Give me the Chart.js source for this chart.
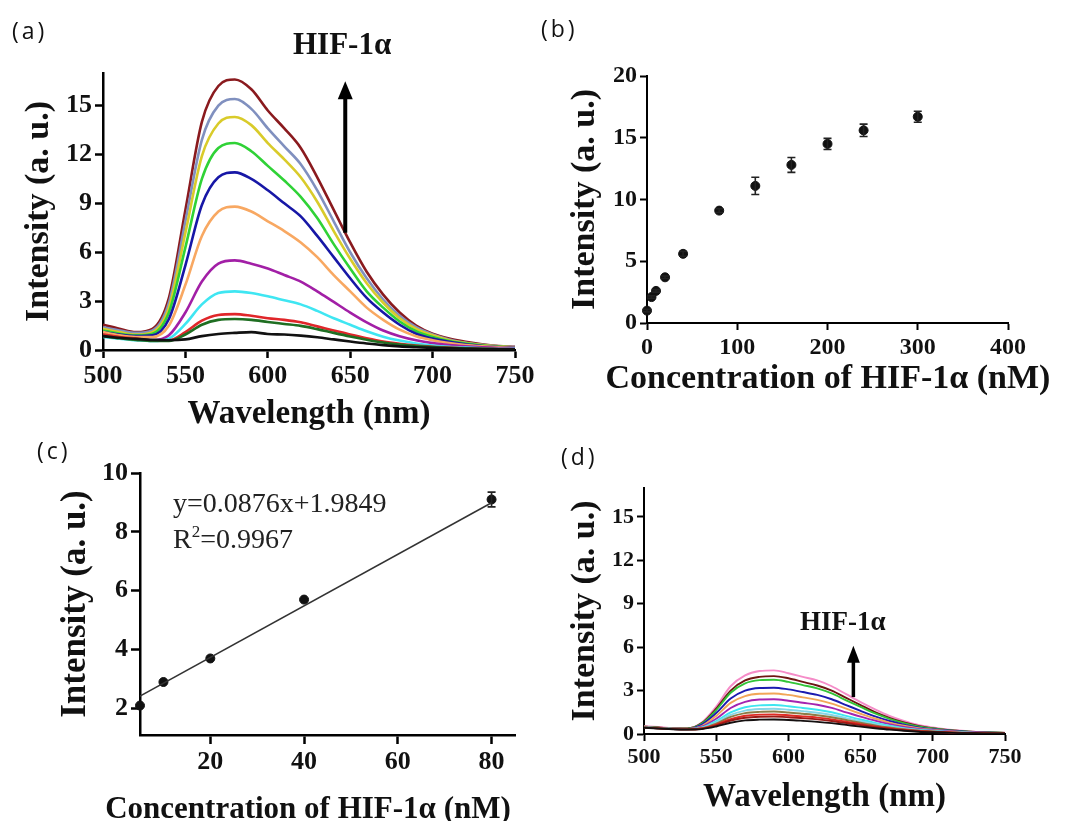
<!DOCTYPE html>
<html>
<head>
<meta charset="utf-8">
<script src="https://cdn.jsdelivr.net/npm/chart.js@4.4.1/dist/chart.umd.min.js"></script>
<style>
  body { margin: 0; background: #fff; width: 1069px; height: 821px; position: relative; overflow: hidden; }
  canvas { position: absolute; }
  .panel { position: absolute; font-family: 'Open Sans', sans-serif; font-size: 23px; letter-spacing: 3px; line-height: 1; color: #111; white-space: nowrap; }
  .hif { position: absolute; font-family: 'Liberation Serif', 'Times New Roman', serif; font-weight: bold; line-height: 1; color: #111; white-space: nowrap; }
  .xt { position: absolute; font-family: 'Liberation Serif', 'Times New Roman', serif; font-weight: bold; line-height: 1; color: #111; white-space: nowrap; text-align: center; }
  .eq { position: absolute; font-family: 'Liberation Serif', 'Times New Roman', serif; font-size: 28px; line-height: 1; color: #222; white-space: nowrap; }
  .eq span { font-size: 17px; vertical-align: 11px; line-height: 0; }
</style>
</head>
<body>
<canvas id="chartA" width="545" height="440" style="left:0;top:0"></canvas>
<canvas id="chartB" width="539" height="400" style="left:530px;top:0"></canvas>
<canvas id="chartC" width="545" height="391" style="left:0;top:430px"></canvas>
<canvas id="chartD" width="539" height="391" style="left:530px;top:430px"></canvas>

<div class="panel" style="left:12px;top:19px">(a)</div>
<div class="panel" style="left:541px;top:17px">(b)</div>
<div class="panel" style="left:37px;top:439px">(c)</div>
<div class="panel" style="left:561px;top:445px">(d)</div>
<div class="hif" style="left:293px;top:28px;font-size:31px">HIF-1α</div>
<div class="hif" style="left:800px;top:608px;font-size:27px">HIF-1α</div>
<div class="eq" style="left:173px;top:489px">y=0.0876x+1.9849</div>
<div class="eq" style="left:173px;top:525px">R<span>2</span>=0.9967</div>
<div class="xt" style="left:578px;width:500px;top:360px;font-size:34px">Concentration of HIF-1α (nM)</div>
<div class="xt" style="left:58px;width:500px;top:792px;font-size:31px">Concentration of HIF-1α (nM)</div>

<script>
const serif = "'Liberation Serif', 'Times New Roman', serif";

// shared wavelength grid (nm)
const wavelengths = [500, 510, 520, 530, 540, 550, 560, 570, 580, 590, 600, 610, 620, 630, 640, 650, 660, 670, 680, 690, 700, 710, 720, 730, 740, 750];

// (a) spectra, highest to lowest
const aDarkRed = [1.55, 1.3, 1.1, 1.3, 3.2, 8.6, 14.0, 16.2, 16.6, 16.0, 14.7, 13.6, 12.4, 10.6, 8.6, 6.6, 4.8, 3.4, 2.3, 1.5, 1.0, 0.7, 0.5, 0.35, 0.25, 0.2];
const aSlate = [1.4, 1.2, 1.05, 1.2, 2.9, 7.9, 12.9, 15.0, 15.4, 14.8, 13.6, 12.5, 11.4, 9.8, 7.9, 6.0, 4.4, 3.1, 2.1, 1.4, 0.95, 0.65, 0.45, 0.32, 0.23, 0.18];
const aYellow = [1.3, 1.1, 0.95, 1.1, 2.6, 7.2, 11.9, 13.9, 14.3, 13.8, 12.7, 11.7, 10.6, 9.1, 7.3, 5.6, 4.1, 2.9, 1.95, 1.3, 0.9, 0.6, 0.42, 0.3, 0.22, 0.17];
const aGreen = [1.2, 1.0, 0.9, 1.0, 2.3, 6.3, 10.5, 12.4, 12.7, 12.2, 11.3, 10.4, 9.4, 8.1, 6.5, 5.0, 3.6, 2.6, 1.75, 1.15, 0.8, 0.55, 0.4, 0.28, 0.2, 0.16];
const aBlue = [1.1, 0.95, 0.85, 0.9, 1.9, 5.2, 8.9, 10.6, 10.9, 10.5, 9.8, 9.0, 8.2, 7.0, 5.7, 4.4, 3.2, 2.3, 1.55, 1.0, 0.7, 0.5, 0.35, 0.25, 0.18, 0.15];
const aOrange = [1.1, 0.9, 0.8, 0.8, 1.5, 4.0, 7.0, 8.5, 8.8, 8.5, 7.9, 7.3, 6.6, 5.7, 4.6, 3.6, 2.6, 1.85, 1.25, 0.85, 0.6, 0.42, 0.3, 0.22, 0.16, 0.13];
const aPurple = [0.9, 0.75, 0.65, 0.6, 0.9, 2.3, 4.2, 5.3, 5.5, 5.3, 5.0, 4.6, 4.2, 3.6, 2.95, 2.3, 1.7, 1.2, 0.85, 0.6, 0.42, 0.3, 0.22, 0.16, 0.12, 0.1];
const aCyan = [0.8, 0.7, 0.6, 0.55, 0.7, 1.6, 2.8, 3.5, 3.6, 3.5, 3.3, 3.05, 2.8, 2.4, 1.95, 1.55, 1.15, 0.82, 0.58, 0.4, 0.28, 0.2, 0.15, 0.11, 0.08, 0.07];
const aRed = [0.95, 0.8, 0.7, 0.6, 0.6, 1.1, 1.8, 2.15, 2.2, 2.1, 1.95, 1.85, 1.7, 1.45, 1.2, 0.95, 0.72, 0.52, 0.38, 0.27, 0.2, 0.15, 0.11, 0.08, 0.06, 0.05];
const aDarkGreen = [0.85, 0.72, 0.62, 0.55, 0.55, 0.95, 1.55, 1.85, 1.9, 1.85, 1.72, 1.6, 1.48, 1.28, 1.05, 0.83, 0.63, 0.46, 0.34, 0.25, 0.18, 0.13, 0.1, 0.07, 0.05, 0.04];
const aBlack = [0.85, 0.75, 0.68, 0.62, 0.6, 0.65, 0.85, 0.98, 1.05, 1.1, 0.98, 0.95, 0.88, 0.78, 0.65, 0.52, 0.4, 0.3, 0.22, 0.17, 0.13, 0.1, 0.08, 0.06, 0.05, 0.04];

// (b) response curve
const concB = [0, 5, 10, 20, 40, 80, 120, 160, 200, 240, 300];
const intensityB = [1.0, 2.1, 2.6, 3.7, 5.6, 9.1, 11.1, 12.8, 14.5, 15.6, 16.7];
const errorB = [0.1, 0.1, 0.1, 0.1, 0.2, 0.15, 0.7, 0.6, 0.45, 0.5, 0.45];

// (c) linear range and fitted line
const concC = [5, 10, 20, 40, 80];
const intensityC = [2.1, 2.9, 3.7, 5.7, 9.1];
const errorC = [0, 0, 0, 0, 0.25];
const fitX = [5, 80];
const fitY = [2.42, 8.99];

// (d) control spectra, highest to lowest
const dPink = [0.55, 0.48, 0.4, 0.4, 0.8, 1.9, 3.3, 4.05, 4.35, 4.4, 4.2, 3.95, 3.7, 3.3, 2.75, 2.2, 1.7, 1.25, 0.9, 0.62, 0.45, 0.32, 0.22, 0.15, 0.11, 0.09];
const dDarkRed = [0.5, 0.45, 0.38, 0.38, 0.75, 1.75, 3.0, 3.7, 3.95, 4.0, 3.85, 3.6, 3.35, 3.0, 2.5, 2.0, 1.52, 1.12, 0.8, 0.56, 0.4, 0.28, 0.2, 0.14, 0.1, 0.08];
const dGreen = [0.5, 0.44, 0.37, 0.37, 0.72, 1.65, 2.85, 3.5, 3.72, 3.75, 3.6, 3.38, 3.15, 2.8, 2.33, 1.87, 1.42, 1.05, 0.75, 0.53, 0.38, 0.27, 0.19, 0.13, 0.1, 0.08];
const dBlue = [0.48, 0.42, 0.36, 0.35, 0.65, 1.45, 2.45, 3.0, 3.18, 3.2, 3.08, 2.9, 2.7, 2.4, 2.0, 1.6, 1.22, 0.9, 0.65, 0.46, 0.33, 0.24, 0.17, 0.12, 0.09, 0.07];
const dOrange = [0.48, 0.42, 0.36, 0.34, 0.55, 1.25, 2.15, 2.62, 2.78, 2.8, 2.7, 2.53, 2.36, 2.1, 1.75, 1.4, 1.07, 0.79, 0.57, 0.41, 0.3, 0.21, 0.15, 0.11, 0.08, 0.06];
const dPurple = [0.46, 0.4, 0.35, 0.33, 0.5, 1.05, 1.8, 2.22, 2.38, 2.4, 2.3, 2.16, 2.02, 1.8, 1.5, 1.2, 0.92, 0.68, 0.49, 0.35, 0.26, 0.19, 0.13, 0.1, 0.07, 0.05];
const dCyan = [0.45, 0.4, 0.35, 0.33, 0.45, 0.9, 1.5, 1.85, 1.98, 2.0, 1.92, 1.8, 1.68, 1.5, 1.25, 1.0, 0.77, 0.57, 0.41, 0.3, 0.22, 0.16, 0.11, 0.08, 0.06, 0.05];
const dTeal = [0.45, 0.4, 0.34, 0.32, 0.42, 0.8, 1.32, 1.62, 1.73, 1.75, 1.68, 1.58, 1.47, 1.31, 1.1, 0.88, 0.68, 0.5, 0.37, 0.27, 0.2, 0.14, 0.1, 0.07, 0.05, 0.04];
const dOlive = [0.45, 0.4, 0.34, 0.32, 0.4, 0.72, 1.18, 1.44, 1.53, 1.55, 1.49, 1.4, 1.3, 1.16, 0.97, 0.78, 0.6, 0.45, 0.33, 0.24, 0.18, 0.13, 0.09, 0.07, 0.05, 0.04];
const dRed = [0.44, 0.39, 0.34, 0.32, 0.38, 0.65, 1.03, 1.26, 1.34, 1.35, 1.3, 1.22, 1.13, 1.01, 0.85, 0.68, 0.53, 0.4, 0.29, 0.21, 0.16, 0.12, 0.08, 0.06, 0.05, 0.04];
const dBrown = [0.44, 0.39, 0.34, 0.32, 0.36, 0.6, 0.93, 1.12, 1.19, 1.2, 1.16, 1.09, 1.01, 0.9, 0.76, 0.61, 0.47, 0.36, 0.26, 0.19, 0.14, 0.1, 0.07, 0.05, 0.04, 0.03];
const dBlack = [0.43, 0.38, 0.33, 0.31, 0.34, 0.52, 0.78, 0.94, 0.99, 1.0, 0.97, 0.91, 0.84, 0.75, 0.63, 0.51, 0.4, 0.3, 0.22, 0.16, 0.12, 0.09, 0.06, 0.05, 0.04, 0.03];

// tick values
const wavelengthTicks = [500, 550, 600, 650, 700, 750];
const spectraTicks = [0, 3, 6, 9, 12, 15];
const concTicksB = [0, 100, 200, 300, 400];
const intensityTicksB = [0, 5, 10, 15, 20];
const concTicksC = [20, 40, 60, 80];
const intensityTicksC = [2, 4, 6, 8, 10];

// arrows (data units)
const arrowA = { x: 647, from: 7.2, to: 16.5 };
const arrowD = { x: 645, from: 2.55, to: 6.1 };

const spectraA = [
  [aBlack, '#111111'], [aDarkGreen, '#1f6e22'], [aRed, '#e0262a'], [aCyan, '#3fe6f2'],
  [aPurple, '#a21fa6'], [aOrange, '#f8a862'], [aBlue, '#1717a6'], [aGreen, '#2fd236'],
  [aYellow, '#d9cb2a'], [aSlate, '#8090bf'], [aDarkRed, '#8a1a1e']
];
const spectraD = [
  [dBlack, '#151010'], [dBrown, '#9c1a16'], [dRed, '#e02a22'], [dOlive, '#8c7c46'],
  [dTeal, '#86d6e6'], [dCyan, '#3ee6f0'], [dPurple, '#a424b0'], [dOrange, '#f2a658'],
  [dBlue, '#1b1bb0'], [dGreen, '#32c437'], [dDarkRed, '#6e1612'], [dPink, '#f58cc8']
];

function spectrumDatasets(list, width) {
  return list.map(([values, color]) => ({
    data: wavelengths.map((w, i) => ({ x: w, y: values[i] })),
    borderColor: color,
    borderWidth: width,
    pointRadius: 0,
    fill: false,
    tension: 0.4,
    cubicInterpolationMode: 'monotone'
  }));
}

function axis(o) {
  return {
    type: 'linear',
    min: o.min,
    max: o.max,
    afterBuildTicks: (s) => { s.ticks = o.ticks.map((v) => ({ value: v })); },
    afterFit: (s) => {
      if (s.isHorizontal()) s.height = o.size; else s.width = o.size;
      s.paddingLeft = s.paddingRight = s.paddingTop = s.paddingBottom = 0;
    },
    border: { display: true, color: '#000', width: o.lw },
    grid: { display: true, drawOnChartArea: false, drawTicks: true, tickLength: o.tl, tickWidth: o.lw, color: '#000' },
    ticks: { color: '#111', padding: 3, maxRotation: 0, autoSkip: false, font: { family: serif, weight: 'bold', size: o.fs } },
    title: {
      display: Boolean(o.title), text: o.title || '', color: '#111',
      font: { family: serif, weight: 'bold', size: o.tfs, lineHeight: 1 },
      padding: o.tpad
    }
  };
}

function arrowPlugin(arrow, shaft, headW, headH) {
  return {
    id: 'arrow',
    afterDatasetsDraw(chart) {
      const { ctx, scales: { x, y } } = chart;
      const px = x.getPixelForValue(arrow.x);
      const yb = y.getPixelForValue(arrow.from);
      const yt = y.getPixelForValue(arrow.to);
      ctx.save();
      ctx.strokeStyle = '#000';
      ctx.fillStyle = '#000';
      ctx.lineWidth = shaft;
      ctx.beginPath();
      ctx.moveTo(px, yb);
      ctx.lineTo(px, yt + headH - 1);
      ctx.stroke();
      ctx.beginPath();
      ctx.moveTo(px, yt);
      ctx.lineTo(px - headW / 2, yt + headH);
      ctx.lineTo(px + headW / 2, yt + headH);
      ctx.closePath();
      ctx.fill();
      ctx.restore();
    }
  };
}

const errorBarPlugin = {
  id: 'errorBars',
  afterDatasetsDraw(chart) {
    const { ctx, scales: { y } } = chart;
    chart.data.datasets.forEach((ds, di) => {
      if (!ds.errors) return;
      const meta = chart.getDatasetMeta(di);
      meta.data.forEach((pt, i) => {
        const e = ds.errors[i];
        if (!e) return;
        const v = ds.data[i].y;
        const top = y.getPixelForValue(v + e);
        const bot = y.getPixelForValue(v - e);
        ctx.save();
        ctx.strokeStyle = '#222';
        ctx.lineWidth = 1.6;
        ctx.beginPath();
        ctx.moveTo(pt.x, top); ctx.lineTo(pt.x, bot);
        ctx.moveTo(pt.x - 4, top); ctx.lineTo(pt.x + 4, top);
        ctx.moveTo(pt.x - 4, bot); ctx.lineTo(pt.x + 4, bot);
        ctx.stroke();
        ctx.restore();
      });
    });
  }
};

const base = {
  responsive: false,
  animation: false,
  events: [],
  plugins: { legend: { display: false }, tooltip: { enabled: false } }
};

new Chart(document.getElementById('chartA'), {
  type: 'line',
  data: { datasets: spectrumDatasets(spectraA, 2.6) },
  options: {
    ...base,
    layout: { padding: { top: 73, right: 30, bottom: 0, left: 0 } },
    scales: {
      x: axis({ min: 500, max: 750, ticks: wavelengthTicks, size: 90, lw: 2.5, tl: 8, fs: 26, title: 'Wavelength (nm)', tfs: 33, tpad: { top: 0, bottom: 9 } }),
      y: axis({ min: 0, max: 17, ticks: spectraTicks, size: 103, lw: 2.5, tl: 8, fs: 26, title: 'Intensity (a. u.)', tfs: 34, tpad: { top: 22, bottom: 0 } })
    }
  },
  plugins: [arrowPlugin(arrowA, 4, 15, 18)]
});

// x titles of (b) and (c) are wider than their axes, so they sit in the page text above
new Chart(document.getElementById('chartB'), {
  type: 'scatter',
  data: {
    datasets: [{
      data: concB.map((c, i) => ({ x: c, y: intensityB[i] })),
      errors: errorB,
      pointRadius: 4.5,
      pointBackgroundColor: '#111',
      pointBorderColor: '#111',
      clip: false
    }]
  },
  options: {
    ...base,
    layout: { padding: { top: 76, right: 61, bottom: 0, left: 0 } },
    scales: {
      x: axis({ min: 0, max: 400, ticks: concTicksB, size: 77, lw: 2, tl: 7, fs: 24, tfs: 34, tpad: 0 }),
      y: axis({ min: 0, max: 20, ticks: intensityTicksB, size: 117, lw: 2, tl: 7, fs: 24, title: 'Intensity (a. u.)', tfs: 34, tpad: { top: 38, bottom: 0 } })
    }
  },
  plugins: [errorBarPlugin]
});

new Chart(document.getElementById('chartC'), {
  type: 'scatter',
  data: {
    datasets: [
      {
        type: 'line',
        data: fitX.map((x, i) => ({ x, y: fitY[i] })),
        borderColor: '#333',
        borderWidth: 1.5,
        pointRadius: 0,
        fill: false
      },
      {
        data: concC.map((c, i) => ({ x: c, y: intensityC[i] })),
        errors: errorC,
        pointRadius: 4.5,
        pointBackgroundColor: '#111',
        pointBorderColor: '#111',
        clip: false
      }
    ]
  },
  options: {
    ...base,
    layout: { padding: { top: 43, right: 30, bottom: 0, left: 0 } },
    scales: {
      x: axis({ min: 5, max: 85, ticks: concTicksC, size: 86, lw: 2.5, tl: 9, fs: 26, tfs: 31, tpad: 0 }),
      y: axis({ min: 1.1, max: 10, ticks: intensityTicksC, size: 140, lw: 2.5, tl: 9, fs: 26, title: 'Intensity (a. u.)', tfs: 35, tpad: { top: 58, bottom: 0 } })
    }
  },
  plugins: [errorBarPlugin]
});

new Chart(document.getElementById('chartD'), {
  type: 'line',
  data: { datasets: spectrumDatasets(spectraD, 1.9) },
  options: {
    ...base,
    layout: { padding: { top: 58, right: 64, bottom: 0, left: 0 } },
    scales: {
      x: axis({ min: 500, max: 750, ticks: wavelengthTicks, size: 87, lw: 2, tl: 7, fs: 22, title: 'Wavelength (nm)', tfs: 33, tpad: { top: 0, bottom: 7 } }),
      y: axis({ min: 0, max: 17, ticks: spectraTicks, size: 114, lw: 2, tl: 7, fs: 22, title: 'Intensity (a. u.)', tfs: 34, tpad: { top: 38, bottom: 0 } })
    }
  },
  plugins: [arrowPlugin(arrowD, 3.5, 13, 17)]
});
</script>
</body>
</html>
